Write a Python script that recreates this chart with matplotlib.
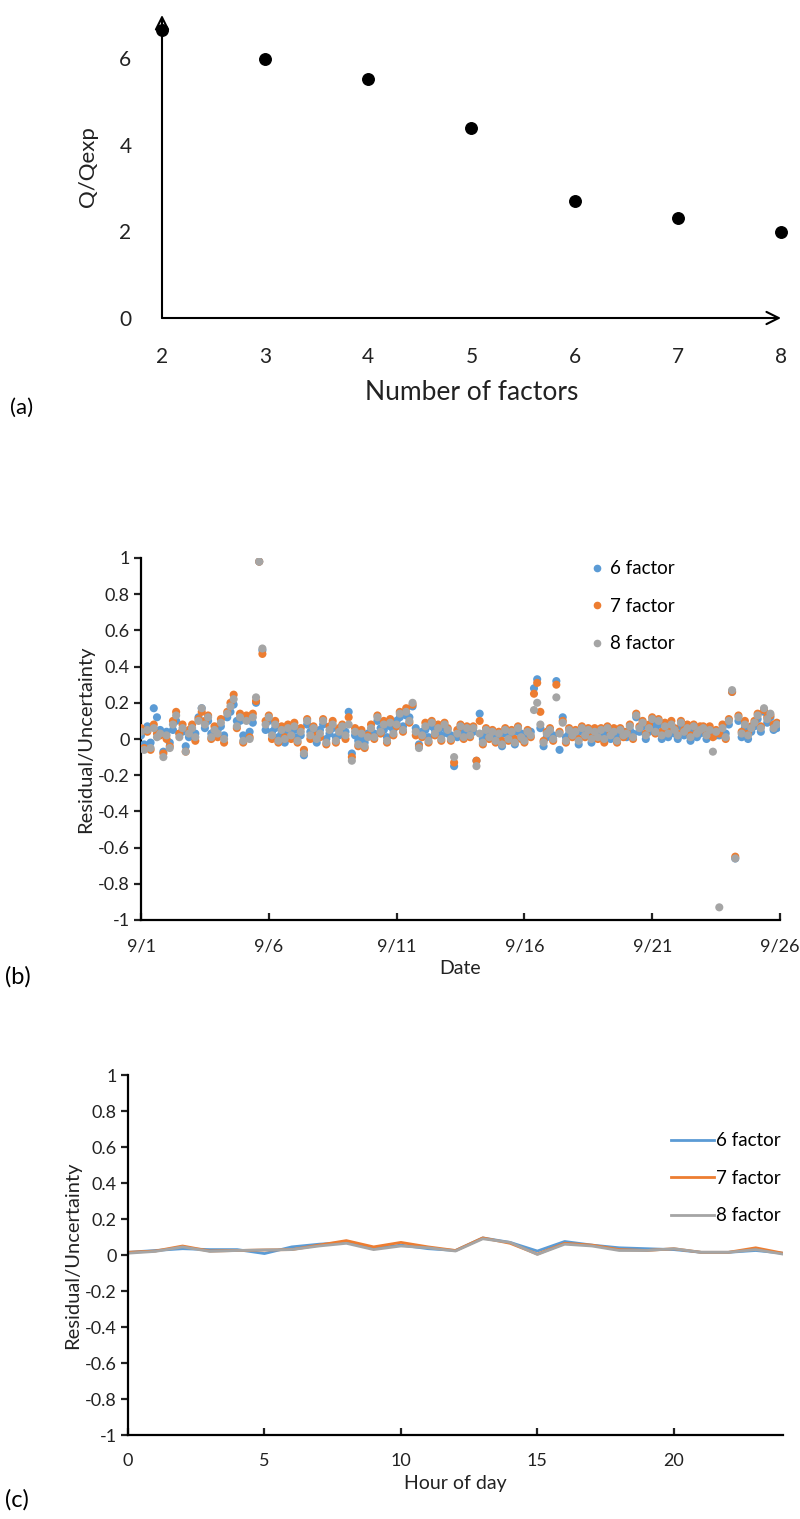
import matplotlib
matplotlib.use('Agg')
import matplotlib.pyplot as plt
import numpy as np
from matplotlib.lines import Line2D

plt.rcParams['font.family'] = ['Lato', 'DejaVu Sans']

# ---------------- Panel (a) data ----------------
n_factors = [2, 3, 4, 5, 6, 7, 8]
q_ratio = [6.65, 5.98, 5.52, 4.39, 2.70, 2.31, 1.99]

# ---------------- Panel (b) data (3-hourly, 8 samples per day) ----------------
date_ticks = [0, 5, 10, 15, 20, 25]
date_labels = ['9/1', '9/6', '9/11', '9/16', '9/21', '9/26']
samples_per_day = 8

res_6 = [
    0.02, -0.03, 0.07, -0.02, 0.17, 0.12, 0.05, -0.07,
    0.04, -0.02, 0.05, 0.10, 0.03, 0.04, -0.04, 0.01,
    0.04, 0.03, 0.12, 0.17, 0.06, 0.10, 0.03, 0.02,
    0.05, 0.07, 0.02, 0.12, 0.15, 0.19, 0.10, 0.10,
    0.02, 0.12, 0.04, 0.09, 0.20, 0.98, 0.49, 0.05,
    0.10, 0.04, 0.06, 0.01, 0.03, -0.02, 0.04, 0.04,
    0.05, 0.01, 0.02, -0.09, 0.08, 0.04, 0.04, -0.02,
    0.05, 0.08, 0.00, 0.03, 0.06, 0.01, 0.02, 0.05,
    0.04, 0.15, -0.08, 0.02, -0.01, 0.01, -0.02, 0.03,
    0.04, 0.03, 0.10, 0.06, 0.05, 0.01, 0.07, 0.05,
    0.10, 0.12, 0.07, 0.13, 0.12, 0.18, 0.06, -0.03,
    0.04, 0.05, 0.01, 0.07, 0.05, 0.04, 0.02, 0.06,
    0.03, 0.02, -0.15, 0.01, 0.05, 0.03, 0.04, 0.04,
    0.04, -0.12, 0.14, 0.00, 0.03, 0.03, 0.02, 0.01,
    0.01, -0.04, 0.03, 0.02, 0.02, -0.03, 0.04, 0.03,
    0.01, 0.02, 0.04, 0.28, 0.33, 0.06, -0.04, 0.01,
    0.03, 0.02, 0.32, -0.06, 0.12, 0.01, 0.03, 0.04,
    0.02, -0.03, 0.04, 0.04, 0.03, -0.02, 0.02, 0.03,
    0.03, 0.02, 0.04, 0.00, 0.02, 0.01, 0.03, 0.04,
    0.01, 0.05, 0.03, 0.12, 0.04, 0.07, 0.00, 0.04,
    0.09, 0.06, 0.08, 0.00, 0.05, 0.01, 0.06, 0.03,
    0.00, 0.07, 0.02, 0.04, -0.01, 0.05, 0.01, 0.03,
    0.04, 0.00, 0.03, 0.03, 0.02, 0.02, 0.04, 0.03,
    0.08, 0.26, -0.66, 0.10, 0.01, 0.06, 0.00, 0.04,
    0.07, 0.11, 0.04, 0.15, 0.09, 0.12, 0.05, 0.06,
]

res_7 = [
    0.06, -0.05, 0.04, -0.06, 0.08, 0.03, 0.02, -0.08,
    0.00, -0.04, 0.10, 0.15, 0.03, 0.08, -0.07, 0.05,
    0.08, -0.01, 0.11, 0.15, 0.10, 0.13, 0.00, 0.07,
    0.01, 0.11, -0.02, 0.15, 0.20, 0.245, 0.06, 0.14,
    -0.02, 0.13, 0.01, 0.14, 0.21, 0.98, 0.47, 0.10,
    0.13, 0.00, 0.10, -0.02, 0.07, 0.01, 0.08, 0.00,
    0.09, -0.02, 0.06, -0.06, 0.11, 0.00, 0.07, 0.02,
    0.01, 0.11, -0.03, 0.07, 0.10, -0.02, 0.06, 0.08,
    0.00, 0.12, -0.10, 0.06, -0.04, 0.05, -0.05, 0.02,
    0.08, 0.00, 0.13, 0.03, 0.10, -0.02, 0.11, 0.02,
    0.07, 0.15, 0.04, 0.17, 0.09, 0.19, 0.02, -0.04,
    0.01, 0.09, -0.02, 0.10, 0.02, 0.08, -0.01, 0.09,
    0.06, -0.01, -0.13, 0.05, 0.08, 0.00, 0.07, 0.01,
    0.07, -0.12, 0.10, -0.03, 0.06, 0.00, 0.05, -0.02,
    0.04, -0.01, 0.06, -0.01, 0.05, 0.00, 0.07, 0.00,
    -0.02, 0.05, 0.01, 0.25, 0.31, 0.15, -0.01, 0.04,
    0.06, -0.01, 0.30, 0.04, 0.10, -0.02, 0.06, 0.01,
    0.05, 0.00, 0.07, 0.01, 0.06, 0.01, 0.06, 0.00,
    0.06, -0.02, 0.07, 0.03, 0.06, -0.02, 0.06, 0.01,
    0.04, 0.08, 0.00, 0.14, 0.07, 0.10, 0.03, 0.08,
    0.12, 0.03, 0.11, 0.04, 0.09, 0.04, 0.10, 0.06,
    0.03, 0.10, 0.05, 0.08, 0.02, 0.08, 0.04, 0.07,
    0.07, 0.03, 0.07, 0.01, 0.05, 0.03, 0.08, 0.00,
    0.11, 0.26, -0.65, 0.13, 0.04, 0.10, 0.03, 0.07,
    0.10, 0.14, 0.07, 0.16, 0.12, 0.13, 0.08, 0.09,
]

res_8 = [
    0.04, -0.06, 0.05, -0.05, 0.06, 0.01, 0.03, -0.10,
    0.02, -0.05, 0.08, 0.13, 0.01, 0.06, -0.07, 0.03,
    0.06, 0.01, 0.10, 0.17, 0.08, 0.12, 0.01, 0.05,
    0.03, 0.09, 0.00, 0.14, 0.18, 0.22, 0.07, 0.12,
    -0.01, 0.10, 0.00, 0.12, 0.23, 0.98, 0.50, 0.08,
    0.12, 0.02, 0.08, -0.01, 0.05, 0.00, 0.06, 0.02,
    0.07, -0.01, 0.04, -0.08, 0.10, 0.02, 0.06, 0.00,
    0.03, 0.10, -0.02, 0.05, 0.08, -0.01, 0.04, 0.07,
    0.02, 0.08, -0.12, 0.04, -0.03, 0.03, -0.04, 0.01,
    0.06, 0.01, 0.12, 0.04, 0.08, -0.01, 0.09, 0.03,
    0.08, 0.14, 0.05, 0.15, 0.10, 0.20, 0.04, -0.05,
    0.02, 0.07, -0.01, 0.09, 0.03, 0.06, 0.00, 0.08,
    0.05, 0.00, -0.10, 0.03, 0.07, 0.01, 0.06, 0.02,
    0.06, -0.15, 0.03, -0.02, 0.05, 0.01, 0.04, -0.01,
    0.03, -0.03, 0.05, 0.00, 0.04, -0.02, 0.06, 0.01,
    -0.01, 0.04, 0.02, 0.16, 0.20, 0.08, -0.02, 0.03,
    0.05, 0.00, 0.23, 0.03, 0.09, -0.01, 0.05, 0.02,
    0.04, -0.01, 0.06, 0.02, 0.05, 0.00, 0.04, 0.01,
    0.05, 0.00, 0.06, 0.02, 0.04, -0.01, 0.05, 0.02,
    0.03, 0.07, 0.01, 0.13, 0.06, 0.09, 0.02, 0.06,
    0.11, 0.04, 0.10, 0.02, 0.07, 0.03, 0.08, 0.05,
    0.02, 0.09, 0.04, 0.06, 0.01, 0.07, 0.03, 0.05,
    0.06, 0.02, 0.05, -0.07, 0.04, -0.93, 0.06, 0.01,
    0.10, 0.27, -0.66, 0.12, 0.03, 0.08, 0.02, 0.06,
    0.09, 0.13, 0.06, 0.17, 0.11, 0.14, 0.06, 0.08,
]

# ---------------- Panel (c) data ----------------
hours = list(range(25))
hour_ticks = [0, 5, 10, 15, 20]
diurnal_6 = [0.015, 0.025, 0.035, 0.030, 0.030, 0.008, 0.045, 0.060, 0.070, 0.035,
             0.055, 0.035, 0.025, 0.095, 0.070, 0.022, 0.075, 0.055, 0.040, 0.035,
             0.030, 0.015, 0.015, 0.025, 0.010]
diurnal_7 = [0.015, 0.022, 0.050, 0.022, 0.025, 0.028, 0.030, 0.055, 0.080, 0.045,
             0.070, 0.045, 0.025, 0.095, 0.065, 0.005, 0.065, 0.055, 0.030, 0.025,
             0.035, 0.015, 0.015, 0.040, 0.010]
diurnal_8 = [0.010, 0.020, 0.045, 0.020, 0.025, 0.028, 0.030, 0.050, 0.065, 0.030,
             0.050, 0.040, 0.022, 0.090, 0.070, 0.003, 0.060, 0.050, 0.025, 0.025,
             0.035, 0.015, 0.015, 0.030, 0.005]

series_names = ['6 factor', '7 factor', '8 factor']
colors = ['#5B9BD5', '#ED7D31', '#A5A5A5']
ytick_vals = [-1, -0.8, -0.6, -0.4, -0.2, 0, 0.2, 0.4, 0.6, 0.8, 1]
ytick_labels = ['-1', '-0.8', '-0.6', '-0.4', '-0.2', '0', '0.2', '0.4', '0.6', '0.8', '1']

W, H = 800, 1519
fig = plt.figure(figsize=(W / 100, H / 100), dpi=100)
TXT = '#222222'


def rect(left, right, top, bottom):
    return [left / W, (H - bottom) / H, (right - left) / W, (bottom - top) / H]


# ================= Panel (a) =================
ax_a = fig.add_axes(rect(162, 781, 15, 318))
ax_a.set_xlim(2, 8)
ax_a.set_ylim(0, 7)
for s in ax_a.spines.values():
    s.set_visible(False)
ax_a.annotate('', xy=(1.0, 0), xytext=(0, 0), xycoords='axes fraction',
              arrowprops=dict(arrowstyle='->', lw=1.5, color='black',
                              mutation_scale=22, shrinkA=0, shrinkB=0))
ax_a.annotate('', xy=(0, 1.0), xytext=(0, 0), xycoords='axes fraction',
              arrowprops=dict(arrowstyle='->', lw=1.5, color='black',
                              mutation_scale=22, shrinkA=0, shrinkB=0))
ax_a.plot(n_factors, q_ratio, 'o', color='black', markersize=8.3, clip_on=False, zorder=5)
ax_a.set_xticks(n_factors)
ax_a.set_yticks([0, 2, 4, 6])
ax_a.tick_params(axis='both', length=0, labelsize=15, colors=TXT)
ax_a.tick_params(axis='x', pad=21)
ax_a.tick_params(axis='y', pad=22)
ax_a.set_xlabel('Number of factors', fontsize=19, color=TXT, labelpad=9)
ax_a.set_ylabel('Q/Qexp', fontsize=16, color=TXT)
ax_a.yaxis.set_label_coords(-0.104, 0.5)
fig.text(10 / W, 1 - 408 / H, '(a)', fontsize=16, va='center', ha='left')


def style_residual_axes(ax):
    ax.set_ylim(-1, 1)
    ax.set_yticks(ytick_vals)
    ax.set_yticklabels(ytick_labels)
    for side in ['top', 'right']:
        ax.spines[side].set_visible(False)
    for side in ['left', 'bottom']:
        ax.spines[side].set_linewidth(1.6)
    ax.tick_params(axis='y', direction='out', length=5, width=1.6, labelsize=13, colors=TXT, pad=3)
    ax.tick_params(axis='x', direction='in', length=5, width=1.6, labelsize=13, colors=TXT, pad=13)
    ax.set_ylabel('Residual/Uncertainty', fontsize=14.5, color=TXT, labelpad=3)


# ================= Panel (b) =================
ax_b = fig.add_axes(rect(141, 780, 558, 920))
t = np.arange(len(res_8)) / samples_per_day
for vals, col, name in zip([res_6, res_7, res_8], colors, series_names):
    ax_b.scatter(t, vals, s=34, color=col, edgecolors='none', label=name, zorder=3)
ax_b.set_xlim(0, 25)
ax_b.set_xticks(date_ticks)
ax_b.set_xticklabels(date_labels)
style_residual_axes(ax_b)
ax_b.set_xlabel('Date', fontsize=14, color=TXT, labelpad=4)
handles_b = [Line2D([], [], marker='o', linestyle='none', color=c, markersize=4.5) for c in colors]
ax_b.legend(handles_b, series_names, loc='upper left', bbox_to_anchor=((580 - 141) / 639, (920 - 553) / 362),
            frameon=False, fontsize=13.5, handletextpad=0.2, labelspacing=1.09, handlelength=1.0,
            borderaxespad=0)
fig.text(5 / W, 1 - 977 / H, '(b)', fontsize=17, va='center', ha='left')

# ================= Panel (c) =================
ax_c = fig.add_axes(rect(128, 783, 1075, 1435))
for vals, col, name in zip([diurnal_6, diurnal_7, diurnal_8], colors, series_names):
    ax_c.plot(hours, vals, color=col, lw=2.0, label=name, solid_joinstyle='round')
ax_c.set_xlim(0, 24)
ax_c.set_xticks(hour_ticks)
style_residual_axes(ax_c)
ax_c.set_xlabel('Hour of day', fontsize=14, color=TXT, labelpad=4)
ax_c.legend(loc='upper left', bbox_to_anchor=((663 - 128) / 655, (1435 - 1125) / 360),
            frameon=False, fontsize=13.5, handletextpad=0.1, labelspacing=1.09, handlelength=2.3,
            borderaxespad=0)
fig.text(5 / W, 1 - 1500 / H, '(c)', fontsize=17, va='center', ha='left')

fig.savefig('out.png', dpi=100)
